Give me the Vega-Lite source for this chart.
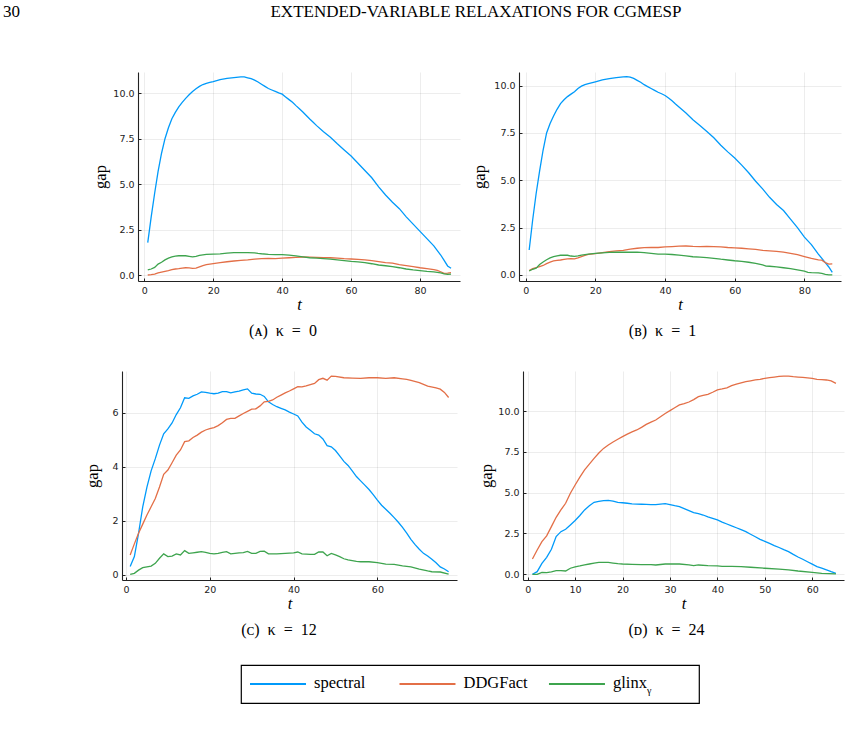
{
  "$schema": "https://vega.github.io/schema/vega-lite/v6.json",
  "background": "white",
  "padding": 0,
  "autosize": {"type": "pad"},
  "bounds": "full",
  "spacing": 0,
  "config": {
    "view": {"stroke": null},
    "font": "Liberation Serif",
    "axis": {
      "labelFont": "DejaVu Sans", "labelFontSize": 9.5, "labelColor": "#222", "labelFlush": false, "labelOverlap": false,
      "labelPadding": 7,
      "domainColor": "#222", "domainWidth": 1.1,
      "tickColor": "#222", "tickSize": -3, "tickWidth": 1,
      "gridColor": "#000", "gridOpacity": 0.1, "gridWidth": 0.7,
      "titleFont": "Liberation Serif", "titleFontSize": 16.5, "titleFontWeight": "normal", "titleColor": "#000"
    },
    "axisX": {"titleFontStyle": "italic", "titlePadding": 2, "labelAngle": 0},
    "title": {"font": "Liberation Serif", "fontSize": 16, "fontWeight": "normal", "color": "#000", "orient": "bottom", "anchor": "middle", "frame": "group", "offset": 10},
    "line": {"strokeWidth": 1.3},
    "legend": {"disable": true}
  },
  "datasets": {
    "a": [
      {"s":"spectral","t":1,"gap":1.78},{"s":"spectral","t":2,"gap":3.2},{"s":"spectral","t":3,"gap":4.5},{"s":"spectral","t":4,"gap":5.7},{"s":"spectral","t":5,"gap":6.7},{"s":"spectral","t":6,"gap":7.5},{"s":"spectral","t":7,"gap":8.1},{"s":"spectral","t":8,"gap":8.6},{"s":"spectral","t":9,"gap":8.95},{"s":"spectral","t":10,"gap":9.25},{"s":"spectral","t":11,"gap":9.5},{"s":"spectral","t":12,"gap":9.72},{"s":"spectral","t":13,"gap":9.92},{"s":"spectral","t":14,"gap":10.1},{"s":"spectral","t":15,"gap":10.25},{"s":"spectral","t":16,"gap":10.38},{"s":"spectral","t":17,"gap":10.48},{"s":"spectral","t":18,"gap":10.55},{"s":"spectral","t":19,"gap":10.6},{"s":"spectral","t":20,"gap":10.64},{"s":"spectral","t":22,"gap":10.75},{"s":"spectral","t":24,"gap":10.82},{"s":"spectral","t":26,"gap":10.86},{"s":"spectral","t":28,"gap":10.9},{"s":"spectral","t":29,"gap":10.9},{"s":"spectral","t":30,"gap":10.85},{"s":"spectral","t":31,"gap":10.8},{"s":"spectral","t":32,"gap":10.72},{"s":"spectral","t":33,"gap":10.62},{"s":"spectral","t":34,"gap":10.5},{"s":"spectral","t":35,"gap":10.38},{"s":"spectral","t":36,"gap":10.26},{"s":"spectral","t":37,"gap":10.18},{"s":"spectral","t":38,"gap":10.1},{"s":"spectral","t":39,"gap":10.02},{"s":"spectral","t":40,"gap":9.95},{"s":"spectral","t":41,"gap":9.8},{"s":"spectral","t":42,"gap":9.65},{"s":"spectral","t":43,"gap":9.5},{"s":"spectral","t":44,"gap":9.32},{"s":"spectral","t":45,"gap":9.15},{"s":"spectral","t":46,"gap":8.97},{"s":"spectral","t":47,"gap":8.78},{"s":"spectral","t":48,"gap":8.58},{"s":"spectral","t":49,"gap":8.4},{"s":"spectral","t":50,"gap":8.22},{"s":"spectral","t":52,"gap":7.88},{"s":"spectral","t":54,"gap":7.58},{"s":"spectral","t":56,"gap":7.22},{"s":"spectral","t":58,"gap":6.88},{"s":"spectral","t":60,"gap":6.55},{"s":"spectral","t":62,"gap":6.15},{"s":"spectral","t":64,"gap":5.75},{"s":"spectral","t":66,"gap":5.35},{"s":"spectral","t":68,"gap":4.85},{"s":"spectral","t":70,"gap":4.4},{"s":"spectral","t":72,"gap":4.0},{"s":"spectral","t":74,"gap":3.65},{"s":"spectral","t":76,"gap":3.2},{"s":"spectral","t":78,"gap":2.8},{"s":"spectral","t":80,"gap":2.4},{"s":"spectral","t":82,"gap":2.0},{"s":"spectral","t":84,"gap":1.6},{"s":"spectral","t":86,"gap":1.1},{"s":"spectral","t":87,"gap":0.8},{"s":"spectral","t":88,"gap":0.5},{"s":"spectral","t":89,"gap":0.37},
      {"s":"DDGFact","t":1,"gap":0.0},{"s":"DDGFact","t":2,"gap":0.02},{"s":"DDGFact","t":3,"gap":0.05},{"s":"DDGFact","t":4,"gap":0.12},{"s":"DDGFact","t":5,"gap":0.16},{"s":"DDGFact","t":6,"gap":0.2},{"s":"DDGFact","t":7,"gap":0.24},{"s":"DDGFact","t":8,"gap":0.29},{"s":"DDGFact","t":9,"gap":0.33},{"s":"DDGFact","t":10,"gap":0.35},{"s":"DDGFact","t":11,"gap":0.38},{"s":"DDGFact","t":12,"gap":0.4},{"s":"DDGFact","t":13,"gap":0.39},{"s":"DDGFact","t":14,"gap":0.37},{"s":"DDGFact","t":15,"gap":0.38},{"s":"DDGFact","t":16,"gap":0.45},{"s":"DDGFact","t":17,"gap":0.52},{"s":"DDGFact","t":18,"gap":0.57},{"s":"DDGFact","t":20,"gap":0.63},{"s":"DDGFact","t":22,"gap":0.68},{"s":"DDGFact","t":24,"gap":0.73},{"s":"DDGFact","t":26,"gap":0.77},{"s":"DDGFact","t":28,"gap":0.8},{"s":"DDGFact","t":30,"gap":0.83},{"s":"DDGFact","t":32,"gap":0.87},{"s":"DDGFact","t":34,"gap":0.9},{"s":"DDGFact","t":36,"gap":0.91},{"s":"DDGFact","t":38,"gap":0.9},{"s":"DDGFact","t":40,"gap":0.93},{"s":"DDGFact","t":42,"gap":0.95},{"s":"DDGFact","t":44,"gap":0.97},{"s":"DDGFact","t":46,"gap":0.99},{"s":"DDGFact","t":48,"gap":0.98},{"s":"DDGFact","t":50,"gap":0.97},{"s":"DDGFact","t":52,"gap":0.96},{"s":"DDGFact","t":54,"gap":0.95},{"s":"DDGFact","t":56,"gap":0.93},{"s":"DDGFact","t":58,"gap":0.9},{"s":"DDGFact","t":60,"gap":0.88},{"s":"DDGFact","t":62,"gap":0.86},{"s":"DDGFact","t":64,"gap":0.83},{"s":"DDGFact","t":66,"gap":0.79},{"s":"DDGFact","t":68,"gap":0.74},{"s":"DDGFact","t":70,"gap":0.68},{"s":"DDGFact","t":72,"gap":0.65},{"s":"DDGFact","t":74,"gap":0.57},{"s":"DDGFact","t":76,"gap":0.52},{"s":"DDGFact","t":78,"gap":0.46},{"s":"DDGFact","t":80,"gap":0.4},{"s":"DDGFact","t":82,"gap":0.35},{"s":"DDGFact","t":84,"gap":0.3},{"s":"DDGFact","t":85,"gap":0.26},{"s":"DDGFact","t":86,"gap":0.18},{"s":"DDGFact","t":87,"gap":0.09},{"s":"DDGFact","t":88,"gap":0.1},{"s":"DDGFact","t":89,"gap":0.13},
      {"s":"glinx_γ","t":1,"gap":0.28},{"s":"glinx_γ","t":2,"gap":0.33},{"s":"glinx_γ","t":3,"gap":0.42},{"s":"glinx_γ","t":4,"gap":0.6},{"s":"glinx_γ","t":5,"gap":0.7},{"s":"glinx_γ","t":6,"gap":0.83},{"s":"glinx_γ","t":7,"gap":0.93},{"s":"glinx_γ","t":8,"gap":1.0},{"s":"glinx_γ","t":9,"gap":1.04},{"s":"glinx_γ","t":10,"gap":1.06},{"s":"glinx_γ","t":11,"gap":1.07},{"s":"glinx_γ","t":12,"gap":1.06},{"s":"glinx_γ","t":13,"gap":1.03},{"s":"glinx_γ","t":14,"gap":1.0},{"s":"glinx_γ","t":15,"gap":1.03},{"s":"glinx_γ","t":16,"gap":1.08},{"s":"glinx_γ","t":18,"gap":1.14},{"s":"glinx_γ","t":20,"gap":1.15},{"s":"glinx_γ","t":22,"gap":1.16},{"s":"glinx_γ","t":24,"gap":1.2},{"s":"glinx_γ","t":26,"gap":1.23},{"s":"glinx_γ","t":28,"gap":1.23},{"s":"glinx_γ","t":30,"gap":1.23},{"s":"glinx_γ","t":32,"gap":1.22},{"s":"glinx_γ","t":33,"gap":1.19},{"s":"glinx_γ","t":34,"gap":1.17},{"s":"glinx_γ","t":36,"gap":1.14},{"s":"glinx_γ","t":38,"gap":1.12},{"s":"glinx_γ","t":40,"gap":1.12},{"s":"glinx_γ","t":42,"gap":1.09},{"s":"glinx_γ","t":44,"gap":1.05},{"s":"glinx_γ","t":46,"gap":1.0},{"s":"glinx_γ","t":48,"gap":0.95},{"s":"glinx_γ","t":50,"gap":0.93},{"s":"glinx_γ","t":52,"gap":0.9},{"s":"glinx_γ","t":54,"gap":0.87},{"s":"glinx_γ","t":56,"gap":0.83},{"s":"glinx_γ","t":58,"gap":0.79},{"s":"glinx_γ","t":60,"gap":0.75},{"s":"glinx_γ","t":62,"gap":0.72},{"s":"glinx_γ","t":64,"gap":0.68},{"s":"glinx_γ","t":66,"gap":0.62},{"s":"glinx_γ","t":68,"gap":0.55},{"s":"glinx_γ","t":70,"gap":0.51},{"s":"glinx_γ","t":72,"gap":0.46},{"s":"glinx_γ","t":74,"gap":0.4},{"s":"glinx_γ","t":76,"gap":0.33},{"s":"glinx_γ","t":78,"gap":0.28},{"s":"glinx_γ","t":80,"gap":0.24},{"s":"glinx_γ","t":82,"gap":0.2},{"s":"glinx_γ","t":84,"gap":0.17},{"s":"glinx_γ","t":86,"gap":0.12},{"s":"glinx_γ","t":87,"gap":0.06},{"s":"glinx_γ","t":88,"gap":0.03},{"s":"glinx_γ","t":89,"gap":0.05}
    ],
    "b": [
      {"s":"spectral","t":1,"gap":1.32},{"s":"spectral","t":2,"gap":2.9},{"s":"spectral","t":3,"gap":4.3},{"s":"spectral","t":4,"gap":5.5},{"s":"spectral","t":5,"gap":6.6},{"s":"spectral","t":6,"gap":7.5},{"s":"spectral","t":7,"gap":8.0},{"s":"spectral","t":8,"gap":8.4},{"s":"spectral","t":9,"gap":8.75},{"s":"spectral","t":10,"gap":9.05},{"s":"spectral","t":11,"gap":9.25},{"s":"spectral","t":12,"gap":9.42},{"s":"spectral","t":13,"gap":9.55},{"s":"spectral","t":14,"gap":9.68},{"s":"spectral","t":15,"gap":9.85},{"s":"spectral","t":16,"gap":9.97},{"s":"spectral","t":17,"gap":10.05},{"s":"spectral","t":18,"gap":10.1},{"s":"spectral","t":20,"gap":10.2},{"s":"spectral","t":22,"gap":10.3},{"s":"spectral","t":24,"gap":10.37},{"s":"spectral","t":26,"gap":10.42},{"s":"spectral","t":28,"gap":10.46},{"s":"spectral","t":29,"gap":10.48},{"s":"spectral","t":30,"gap":10.45},{"s":"spectral","t":31,"gap":10.38},{"s":"spectral","t":32,"gap":10.28},{"s":"spectral","t":33,"gap":10.18},{"s":"spectral","t":34,"gap":10.05},{"s":"spectral","t":35,"gap":9.95},{"s":"spectral","t":36,"gap":9.85},{"s":"spectral","t":37,"gap":9.75},{"s":"spectral","t":38,"gap":9.65},{"s":"spectral","t":39,"gap":9.57},{"s":"spectral","t":40,"gap":9.48},{"s":"spectral","t":41,"gap":9.35},{"s":"spectral","t":42,"gap":9.2},{"s":"spectral","t":43,"gap":9.03},{"s":"spectral","t":44,"gap":8.87},{"s":"spectral","t":46,"gap":8.55},{"s":"spectral","t":48,"gap":8.2},{"s":"spectral","t":50,"gap":7.9},{"s":"spectral","t":52,"gap":7.58},{"s":"spectral","t":54,"gap":7.25},{"s":"spectral","t":56,"gap":6.85},{"s":"spectral","t":58,"gap":6.5},{"s":"spectral","t":60,"gap":6.18},{"s":"spectral","t":62,"gap":5.8},{"s":"spectral","t":64,"gap":5.4},{"s":"spectral","t":66,"gap":4.95},{"s":"spectral","t":68,"gap":4.55},{"s":"spectral","t":70,"gap":4.1},{"s":"spectral","t":72,"gap":3.72},{"s":"spectral","t":74,"gap":3.4},{"s":"spectral","t":76,"gap":2.95},{"s":"spectral","t":78,"gap":2.5},{"s":"spectral","t":80,"gap":2.0},{"s":"spectral","t":82,"gap":1.6},{"s":"spectral","t":83,"gap":1.35},{"s":"spectral","t":84,"gap":1.1},{"s":"spectral","t":86,"gap":0.65},{"s":"spectral","t":87,"gap":0.42},{"s":"spectral","t":88,"gap":0.14},
      {"s":"DDGFact","t":1,"gap":0.23},{"s":"DDGFact","t":2,"gap":0.33},{"s":"DDGFact","t":3,"gap":0.38},{"s":"DDGFact","t":4,"gap":0.44},{"s":"DDGFact","t":5,"gap":0.5},{"s":"DDGFact","t":6,"gap":0.6},{"s":"DDGFact","t":7,"gap":0.68},{"s":"DDGFact","t":8,"gap":0.74},{"s":"DDGFact","t":9,"gap":0.77},{"s":"DDGFact","t":10,"gap":0.79},{"s":"DDGFact","t":11,"gap":0.82},{"s":"DDGFact","t":12,"gap":0.85},{"s":"DDGFact","t":13,"gap":0.86},{"s":"DDGFact","t":14,"gap":0.85},{"s":"DDGFact","t":15,"gap":0.9},{"s":"DDGFact","t":16,"gap":0.97},{"s":"DDGFact","t":17,"gap":1.03},{"s":"DDGFact","t":18,"gap":1.09},{"s":"DDGFact","t":20,"gap":1.13},{"s":"DDGFact","t":22,"gap":1.18},{"s":"DDGFact","t":24,"gap":1.23},{"s":"DDGFact","t":26,"gap":1.27},{"s":"DDGFact","t":28,"gap":1.3},{"s":"DDGFact","t":30,"gap":1.36},{"s":"DDGFact","t":32,"gap":1.41},{"s":"DDGFact","t":34,"gap":1.44},{"s":"DDGFact","t":36,"gap":1.45},{"s":"DDGFact","t":38,"gap":1.45},{"s":"DDGFact","t":40,"gap":1.48},{"s":"DDGFact","t":42,"gap":1.5},{"s":"DDGFact","t":44,"gap":1.52},{"s":"DDGFact","t":46,"gap":1.53},{"s":"DDGFact","t":48,"gap":1.51},{"s":"DDGFact","t":50,"gap":1.5},{"s":"DDGFact","t":52,"gap":1.51},{"s":"DDGFact","t":54,"gap":1.5},{"s":"DDGFact","t":56,"gap":1.48},{"s":"DDGFact","t":58,"gap":1.45},{"s":"DDGFact","t":60,"gap":1.43},{"s":"DDGFact","t":62,"gap":1.41},{"s":"DDGFact","t":64,"gap":1.38},{"s":"DDGFact","t":66,"gap":1.35},{"s":"DDGFact","t":68,"gap":1.3},{"s":"DDGFact","t":70,"gap":1.27},{"s":"DDGFact","t":72,"gap":1.24},{"s":"DDGFact","t":74,"gap":1.2},{"s":"DDGFact","t":76,"gap":1.14},{"s":"DDGFact","t":78,"gap":1.07},{"s":"DDGFact","t":80,"gap":0.97},{"s":"DDGFact","t":82,"gap":0.87},{"s":"DDGFact","t":84,"gap":0.8},{"s":"DDGFact","t":85,"gap":0.78},{"s":"DDGFact","t":86,"gap":0.65},{"s":"DDGFact","t":87,"gap":0.57},{"s":"DDGFact","t":88,"gap":0.58},
      {"s":"glinx_γ","t":1,"gap":0.21},{"s":"glinx_γ","t":2,"gap":0.3},{"s":"glinx_γ","t":3,"gap":0.36},{"s":"glinx_γ","t":4,"gap":0.55},{"s":"glinx_γ","t":5,"gap":0.68},{"s":"glinx_γ","t":6,"gap":0.8},{"s":"glinx_γ","t":7,"gap":0.9},{"s":"glinx_γ","t":8,"gap":0.97},{"s":"glinx_γ","t":9,"gap":1.01},{"s":"glinx_γ","t":10,"gap":1.04},{"s":"glinx_γ","t":11,"gap":1.05},{"s":"glinx_γ","t":12,"gap":1.04},{"s":"glinx_γ","t":13,"gap":1.0},{"s":"glinx_γ","t":14,"gap":0.98},{"s":"glinx_γ","t":15,"gap":1.01},{"s":"glinx_γ","t":16,"gap":1.05},{"s":"glinx_γ","t":18,"gap":1.1},{"s":"glinx_γ","t":20,"gap":1.14},{"s":"glinx_γ","t":22,"gap":1.17},{"s":"glinx_γ","t":24,"gap":1.19},{"s":"glinx_γ","t":26,"gap":1.2},{"s":"glinx_γ","t":28,"gap":1.2},{"s":"glinx_γ","t":30,"gap":1.2},{"s":"glinx_γ","t":32,"gap":1.2},{"s":"glinx_γ","t":34,"gap":1.18},{"s":"glinx_γ","t":36,"gap":1.14},{"s":"glinx_γ","t":38,"gap":1.1},{"s":"glinx_γ","t":40,"gap":1.1},{"s":"glinx_γ","t":42,"gap":1.08},{"s":"glinx_γ","t":44,"gap":1.05},{"s":"glinx_γ","t":46,"gap":1.01},{"s":"glinx_γ","t":48,"gap":0.96},{"s":"glinx_γ","t":50,"gap":0.94},{"s":"glinx_γ","t":52,"gap":0.92},{"s":"glinx_γ","t":54,"gap":0.88},{"s":"glinx_γ","t":56,"gap":0.83},{"s":"glinx_γ","t":58,"gap":0.79},{"s":"glinx_γ","t":60,"gap":0.75},{"s":"glinx_γ","t":62,"gap":0.72},{"s":"glinx_γ","t":64,"gap":0.67},{"s":"glinx_γ","t":66,"gap":0.61},{"s":"glinx_γ","t":68,"gap":0.53},{"s":"glinx_γ","t":69,"gap":0.47},{"s":"glinx_γ","t":70,"gap":0.46},{"s":"glinx_γ","t":72,"gap":0.43},{"s":"glinx_γ","t":74,"gap":0.38},{"s":"glinx_γ","t":76,"gap":0.33},{"s":"glinx_γ","t":78,"gap":0.27},{"s":"glinx_γ","t":80,"gap":0.2},{"s":"glinx_γ","t":81,"gap":0.14},{"s":"glinx_γ","t":82,"gap":0.12},{"s":"glinx_γ","t":84,"gap":0.11},{"s":"glinx_γ","t":85,"gap":0.08},{"s":"glinx_γ","t":86,"gap":0.03},{"s":"glinx_γ","t":87,"gap":0.0},{"s":"glinx_γ","t":88,"gap":0.0}
    ],
    "c": [
      {"s":"spectral","t":1,"gap":0.31},{"s":"spectral","t":2,"gap":0.68},{"s":"spectral","t":3,"gap":1.54},{"s":"spectral","t":4,"gap":2.52},{"s":"spectral","t":5,"gap":3.25},{"s":"spectral","t":6,"gap":3.85},{"s":"spectral","t":7,"gap":4.3},{"s":"spectral","t":8,"gap":4.8},{"s":"spectral","t":9,"gap":5.22},{"s":"spectral","t":10,"gap":5.4},{"s":"spectral","t":11,"gap":5.62},{"s":"spectral","t":12,"gap":5.93},{"s":"spectral","t":13,"gap":6.18},{"s":"spectral","t":14,"gap":6.55},{"s":"spectral","t":15,"gap":6.53},{"s":"spectral","t":16,"gap":6.62},{"s":"spectral","t":17,"gap":6.68},{"s":"spectral","t":18,"gap":6.77},{"s":"spectral","t":19,"gap":6.75},{"s":"spectral","t":20,"gap":6.72},{"s":"spectral","t":21,"gap":6.7},{"s":"spectral","t":22,"gap":6.72},{"s":"spectral","t":23,"gap":6.78},{"s":"spectral","t":24,"gap":6.78},{"s":"spectral","t":25,"gap":6.73},{"s":"spectral","t":26,"gap":6.77},{"s":"spectral","t":27,"gap":6.8},{"s":"spectral","t":28,"gap":6.84},{"s":"spectral","t":29,"gap":6.88},{"s":"spectral","t":30,"gap":6.72},{"s":"spectral","t":31,"gap":6.69},{"s":"spectral","t":32,"gap":6.68},{"s":"spectral","t":33,"gap":6.6},{"s":"spectral","t":34,"gap":6.4},{"s":"spectral","t":35,"gap":6.3},{"s":"spectral","t":36,"gap":6.22},{"s":"spectral","t":37,"gap":6.16},{"s":"spectral","t":38,"gap":6.1},{"s":"spectral","t":39,"gap":6.02},{"s":"spectral","t":40,"gap":5.95},{"s":"spectral","t":41,"gap":5.88},{"s":"spectral","t":42,"gap":5.65},{"s":"spectral","t":43,"gap":5.47},{"s":"spectral","t":44,"gap":5.35},{"s":"spectral","t":45,"gap":5.22},{"s":"spectral","t":46,"gap":5.17},{"s":"spectral","t":47,"gap":5.03},{"s":"spectral","t":48,"gap":4.78},{"s":"spectral","t":49,"gap":4.74},{"s":"spectral","t":50,"gap":4.6},{"s":"spectral","t":51,"gap":4.4},{"s":"spectral","t":52,"gap":4.2},{"s":"spectral","t":53,"gap":4.05},{"s":"spectral","t":54,"gap":3.85},{"s":"spectral","t":55,"gap":3.64},{"s":"spectral","t":56,"gap":3.48},{"s":"spectral","t":57,"gap":3.32},{"s":"spectral","t":58,"gap":3.16},{"s":"spectral","t":59,"gap":2.97},{"s":"spectral","t":60,"gap":2.77},{"s":"spectral","t":61,"gap":2.58},{"s":"spectral","t":62,"gap":2.43},{"s":"spectral","t":63,"gap":2.28},{"s":"spectral","t":64,"gap":2.12},{"s":"spectral","t":65,"gap":1.95},{"s":"spectral","t":66,"gap":1.76},{"s":"spectral","t":67,"gap":1.55},{"s":"spectral","t":68,"gap":1.32},{"s":"spectral","t":69,"gap":1.12},{"s":"spectral","t":70,"gap":0.95},{"s":"spectral","t":71,"gap":0.8},{"s":"spectral","t":72,"gap":0.7},{"s":"spectral","t":73,"gap":0.58},{"s":"spectral","t":74,"gap":0.45},{"s":"spectral","t":75,"gap":0.3},{"s":"spectral","t":76,"gap":0.22},{"s":"spectral","t":77,"gap":0.12},
      {"s":"DDGFact","t":1,"gap":0.74},{"s":"DDGFact","t":2,"gap":1.15},{"s":"DDGFact","t":3,"gap":1.54},{"s":"DDGFact","t":4,"gap":1.88},{"s":"DDGFact","t":5,"gap":2.22},{"s":"DDGFact","t":6,"gap":2.52},{"s":"DDGFact","t":7,"gap":2.83},{"s":"DDGFact","t":8,"gap":3.25},{"s":"DDGFact","t":9,"gap":3.72},{"s":"DDGFact","t":10,"gap":3.88},{"s":"DDGFact","t":11,"gap":4.15},{"s":"DDGFact","t":12,"gap":4.43},{"s":"DDGFact","t":13,"gap":4.62},{"s":"DDGFact","t":14,"gap":4.93},{"s":"DDGFact","t":15,"gap":4.96},{"s":"DDGFact","t":16,"gap":5.08},{"s":"DDGFact","t":17,"gap":5.17},{"s":"DDGFact","t":18,"gap":5.28},{"s":"DDGFact","t":19,"gap":5.36},{"s":"DDGFact","t":20,"gap":5.41},{"s":"DDGFact","t":21,"gap":5.45},{"s":"DDGFact","t":22,"gap":5.52},{"s":"DDGFact","t":23,"gap":5.63},{"s":"DDGFact","t":24,"gap":5.75},{"s":"DDGFact","t":25,"gap":5.79},{"s":"DDGFact","t":26,"gap":5.79},{"s":"DDGFact","t":27,"gap":5.88},{"s":"DDGFact","t":28,"gap":5.97},{"s":"DDGFact","t":29,"gap":6.05},{"s":"DDGFact","t":30,"gap":6.13},{"s":"DDGFact","t":31,"gap":6.14},{"s":"DDGFact","t":32,"gap":6.25},{"s":"DDGFact","t":33,"gap":6.4},{"s":"DDGFact","t":34,"gap":6.42},{"s":"DDGFact","t":35,"gap":6.47},{"s":"DDGFact","t":36,"gap":6.57},{"s":"DDGFact","t":37,"gap":6.65},{"s":"DDGFact","t":38,"gap":6.73},{"s":"DDGFact","t":39,"gap":6.8},{"s":"DDGFact","t":40,"gap":6.88},{"s":"DDGFact","t":41,"gap":6.96},{"s":"DDGFact","t":42,"gap":6.95},{"s":"DDGFact","t":43,"gap":6.99},{"s":"DDGFact","t":44,"gap":7.04},{"s":"DDGFact","t":45,"gap":7.08},{"s":"DDGFact","t":46,"gap":7.22},{"s":"DDGFact","t":47,"gap":7.27},{"s":"DDGFact","t":48,"gap":7.2},{"s":"DDGFact","t":49,"gap":7.35},{"s":"DDGFact","t":50,"gap":7.34},{"s":"DDGFact","t":52,"gap":7.29},{"s":"DDGFact","t":54,"gap":7.28},{"s":"DDGFact","t":56,"gap":7.27},{"s":"DDGFact","t":58,"gap":7.29},{"s":"DDGFact","t":60,"gap":7.29},{"s":"DDGFact","t":62,"gap":7.27},{"s":"DDGFact","t":64,"gap":7.29},{"s":"DDGFact","t":66,"gap":7.25},{"s":"DDGFact","t":67,"gap":7.23},{"s":"DDGFact","t":68,"gap":7.19},{"s":"DDGFact","t":70,"gap":7.11},{"s":"DDGFact","t":72,"gap":6.98},{"s":"DDGFact","t":74,"gap":6.92},{"s":"DDGFact","t":75,"gap":6.87},{"s":"DDGFact","t":76,"gap":6.75},{"s":"DDGFact","t":77,"gap":6.56},
      {"s":"glinx_γ","t":1,"gap":0.02},{"s":"glinx_γ","t":2,"gap":0.06},{"s":"glinx_γ","t":3,"gap":0.18},{"s":"glinx_γ","t":4,"gap":0.27},{"s":"glinx_γ","t":5,"gap":0.3},{"s":"glinx_γ","t":6,"gap":0.33},{"s":"glinx_γ","t":7,"gap":0.43},{"s":"glinx_γ","t":8,"gap":0.62},{"s":"glinx_γ","t":9,"gap":0.78},{"s":"glinx_γ","t":10,"gap":0.68},{"s":"glinx_γ","t":11,"gap":0.7},{"s":"glinx_γ","t":12,"gap":0.78},{"s":"glinx_γ","t":13,"gap":0.74},{"s":"glinx_γ","t":14,"gap":0.9},{"s":"glinx_γ","t":15,"gap":0.8},{"s":"glinx_γ","t":16,"gap":0.82},{"s":"glinx_γ","t":17,"gap":0.84},{"s":"glinx_γ","t":18,"gap":0.86},{"s":"glinx_γ","t":19,"gap":0.84},{"s":"glinx_γ","t":20,"gap":0.8},{"s":"glinx_γ","t":21,"gap":0.78},{"s":"glinx_γ","t":22,"gap":0.8},{"s":"glinx_γ","t":23,"gap":0.84},{"s":"glinx_γ","t":24,"gap":0.86},{"s":"glinx_γ","t":25,"gap":0.78},{"s":"glinx_γ","t":26,"gap":0.8},{"s":"glinx_γ","t":27,"gap":0.82},{"s":"glinx_γ","t":28,"gap":0.83},{"s":"glinx_γ","t":29,"gap":0.87},{"s":"glinx_γ","t":30,"gap":0.8},{"s":"glinx_γ","t":31,"gap":0.8},{"s":"glinx_γ","t":32,"gap":0.87},{"s":"glinx_γ","t":33,"gap":0.88},{"s":"glinx_γ","t":34,"gap":0.78},{"s":"glinx_γ","t":35,"gap":0.78},{"s":"glinx_γ","t":36,"gap":0.78},{"s":"glinx_γ","t":38,"gap":0.8},{"s":"glinx_γ","t":40,"gap":0.82},{"s":"glinx_γ","t":41,"gap":0.85},{"s":"glinx_γ","t":42,"gap":0.78},{"s":"glinx_γ","t":43,"gap":0.77},{"s":"glinx_γ","t":44,"gap":0.76},{"s":"glinx_γ","t":45,"gap":0.76},{"s":"glinx_γ","t":46,"gap":0.85},{"s":"glinx_γ","t":47,"gap":0.85},{"s":"glinx_γ","t":48,"gap":0.71},{"s":"glinx_γ","t":49,"gap":0.8},{"s":"glinx_γ","t":50,"gap":0.74},{"s":"glinx_γ","t":51,"gap":0.68},{"s":"glinx_γ","t":52,"gap":0.6},{"s":"glinx_γ","t":53,"gap":0.56},{"s":"glinx_γ","t":54,"gap":0.53},{"s":"glinx_γ","t":55,"gap":0.5},{"s":"glinx_γ","t":56,"gap":0.49},{"s":"glinx_γ","t":58,"gap":0.49},{"s":"glinx_γ","t":60,"gap":0.46},{"s":"glinx_γ","t":61,"gap":0.43},{"s":"glinx_γ","t":62,"gap":0.4},{"s":"glinx_γ","t":64,"gap":0.39},{"s":"glinx_γ","t":66,"gap":0.34},{"s":"glinx_γ","t":68,"gap":0.3},{"s":"glinx_γ","t":70,"gap":0.22},{"s":"glinx_γ","t":72,"gap":0.15},{"s":"glinx_γ","t":73,"gap":0.12},{"s":"glinx_γ","t":75,"gap":0.11},{"s":"glinx_γ","t":77,"gap":0.03}
    ],
    "d": [
      {"s":"spectral","t":1,"gap":0.0},{"s":"spectral","t":2,"gap":0.16},{"s":"spectral","t":3,"gap":0.67},{"s":"spectral","t":4,"gap":1.04},{"s":"spectral","t":5,"gap":1.53},{"s":"spectral","t":6,"gap":2.31},{"s":"spectral","t":7,"gap":2.61},{"s":"spectral","t":8,"gap":2.76},{"s":"spectral","t":9,"gap":3.02},{"s":"spectral","t":10,"gap":3.29},{"s":"spectral","t":11,"gap":3.6},{"s":"spectral","t":12,"gap":3.94},{"s":"spectral","t":13,"gap":4.2},{"s":"spectral","t":14,"gap":4.41},{"s":"spectral","t":15,"gap":4.47},{"s":"spectral","t":16,"gap":4.51},{"s":"spectral","t":17,"gap":4.53},{"s":"spectral","t":18,"gap":4.48},{"s":"spectral","t":19,"gap":4.41},{"s":"spectral","t":20,"gap":4.38},{"s":"spectral","t":21,"gap":4.35},{"s":"spectral","t":22,"gap":4.31},{"s":"spectral","t":23,"gap":4.3},{"s":"spectral","t":24,"gap":4.29},{"s":"spectral","t":25,"gap":4.28},{"s":"spectral","t":26,"gap":4.27},{"s":"spectral","t":27,"gap":4.27},{"s":"spectral","t":28,"gap":4.3},{"s":"spectral","t":29,"gap":4.33},{"s":"spectral","t":30,"gap":4.27},{"s":"spectral","t":31,"gap":4.2},{"s":"spectral","t":32,"gap":4.14},{"s":"spectral","t":33,"gap":4.02},{"s":"spectral","t":34,"gap":3.9},{"s":"spectral","t":35,"gap":3.78},{"s":"spectral","t":36,"gap":3.72},{"s":"spectral","t":37,"gap":3.63},{"s":"spectral","t":38,"gap":3.52},{"s":"spectral","t":39,"gap":3.43},{"s":"spectral","t":40,"gap":3.33},{"s":"spectral","t":41,"gap":3.2},{"s":"spectral","t":42,"gap":3.08},{"s":"spectral","t":43,"gap":2.96},{"s":"spectral","t":44,"gap":2.85},{"s":"spectral","t":45,"gap":2.73},{"s":"spectral","t":46,"gap":2.61},{"s":"spectral","t":47,"gap":2.45},{"s":"spectral","t":48,"gap":2.3},{"s":"spectral","t":49,"gap":2.14},{"s":"spectral","t":50,"gap":2.02},{"s":"spectral","t":51,"gap":1.89},{"s":"spectral","t":52,"gap":1.76},{"s":"spectral","t":53,"gap":1.64},{"s":"spectral","t":54,"gap":1.51},{"s":"spectral","t":55,"gap":1.39},{"s":"spectral","t":56,"gap":1.22},{"s":"spectral","t":57,"gap":1.06},{"s":"spectral","t":58,"gap":0.92},{"s":"spectral","t":59,"gap":0.77},{"s":"spectral","t":60,"gap":0.62},{"s":"spectral","t":61,"gap":0.47},{"s":"spectral","t":62,"gap":0.38},{"s":"spectral","t":63,"gap":0.27},{"s":"spectral","t":64,"gap":0.16},{"s":"spectral","t":65,"gap":0.06},
      {"s":"DDGFact","t":1,"gap":0.94},{"s":"DDGFact","t":2,"gap":1.49},{"s":"DDGFact","t":3,"gap":2.0},{"s":"DDGFact","t":4,"gap":2.35},{"s":"DDGFact","t":5,"gap":2.92},{"s":"DDGFact","t":6,"gap":3.49},{"s":"DDGFact","t":7,"gap":3.94},{"s":"DDGFact","t":8,"gap":4.35},{"s":"DDGFact","t":9,"gap":4.96},{"s":"DDGFact","t":10,"gap":5.47},{"s":"DDGFact","t":11,"gap":5.95},{"s":"DDGFact","t":12,"gap":6.39},{"s":"DDGFact","t":13,"gap":6.75},{"s":"DDGFact","t":14,"gap":7.1},{"s":"DDGFact","t":15,"gap":7.43},{"s":"DDGFact","t":16,"gap":7.71},{"s":"DDGFact","t":17,"gap":7.92},{"s":"DDGFact","t":18,"gap":8.1},{"s":"DDGFact","t":19,"gap":8.27},{"s":"DDGFact","t":20,"gap":8.43},{"s":"DDGFact","t":21,"gap":8.58},{"s":"DDGFact","t":22,"gap":8.72},{"s":"DDGFact","t":23,"gap":8.84},{"s":"DDGFact","t":24,"gap":9.0},{"s":"DDGFact","t":25,"gap":9.18},{"s":"DDGFact","t":26,"gap":9.32},{"s":"DDGFact","t":27,"gap":9.45},{"s":"DDGFact","t":28,"gap":9.65},{"s":"DDGFact","t":29,"gap":9.85},{"s":"DDGFact","t":30,"gap":10.02},{"s":"DDGFact","t":31,"gap":10.2},{"s":"DDGFact","t":32,"gap":10.37},{"s":"DDGFact","t":33,"gap":10.45},{"s":"DDGFact","t":34,"gap":10.55},{"s":"DDGFact","t":35,"gap":10.7},{"s":"DDGFact","t":36,"gap":10.88},{"s":"DDGFact","t":37,"gap":10.95},{"s":"DDGFact","t":38,"gap":11.02},{"s":"DDGFact","t":39,"gap":11.15},{"s":"DDGFact","t":40,"gap":11.29},{"s":"DDGFact","t":41,"gap":11.35},{"s":"DDGFact","t":42,"gap":11.42},{"s":"DDGFact","t":43,"gap":11.55},{"s":"DDGFact","t":44,"gap":11.65},{"s":"DDGFact","t":45,"gap":11.73},{"s":"DDGFact","t":46,"gap":11.8},{"s":"DDGFact","t":47,"gap":11.85},{"s":"DDGFact","t":48,"gap":11.9},{"s":"DDGFact","t":49,"gap":11.94},{"s":"DDGFact","t":50,"gap":12.0},{"s":"DDGFact","t":51,"gap":12.04},{"s":"DDGFact","t":52,"gap":12.08},{"s":"DDGFact","t":53,"gap":12.12},{"s":"DDGFact","t":54,"gap":12.14},{"s":"DDGFact","t":55,"gap":12.13},{"s":"DDGFact","t":56,"gap":12.1},{"s":"DDGFact","t":57,"gap":12.08},{"s":"DDGFact","t":58,"gap":12.06},{"s":"DDGFact","t":59,"gap":12.03},{"s":"DDGFact","t":60,"gap":12.0},{"s":"DDGFact","t":61,"gap":11.94},{"s":"DDGFact","t":62,"gap":11.92},{"s":"DDGFact","t":63,"gap":11.9},{"s":"DDGFact","t":64,"gap":11.84},{"s":"DDGFact","t":65,"gap":11.69},
      {"s":"glinx_γ","t":1,"gap":0.0},{"s":"glinx_γ","t":2,"gap":0.0},{"s":"glinx_γ","t":3,"gap":0.12},{"s":"glinx_γ","t":4,"gap":0.1},{"s":"glinx_γ","t":5,"gap":0.15},{"s":"glinx_γ","t":6,"gap":0.22},{"s":"glinx_γ","t":7,"gap":0.22},{"s":"glinx_γ","t":8,"gap":0.2},{"s":"glinx_γ","t":9,"gap":0.37},{"s":"glinx_γ","t":10,"gap":0.45},{"s":"glinx_γ","t":11,"gap":0.51},{"s":"glinx_γ","t":12,"gap":0.58},{"s":"glinx_γ","t":13,"gap":0.63},{"s":"glinx_γ","t":14,"gap":0.68},{"s":"glinx_γ","t":15,"gap":0.73},{"s":"glinx_γ","t":16,"gap":0.73},{"s":"glinx_γ","t":17,"gap":0.73},{"s":"glinx_γ","t":18,"gap":0.69},{"s":"glinx_γ","t":19,"gap":0.65},{"s":"glinx_γ","t":20,"gap":0.63},{"s":"glinx_γ","t":22,"gap":0.61},{"s":"glinx_γ","t":24,"gap":0.59},{"s":"glinx_γ","t":26,"gap":0.59},{"s":"glinx_γ","t":27,"gap":0.57},{"s":"glinx_γ","t":28,"gap":0.6},{"s":"glinx_γ","t":29,"gap":0.63},{"s":"glinx_γ","t":30,"gap":0.64},{"s":"glinx_γ","t":32,"gap":0.63},{"s":"glinx_γ","t":34,"gap":0.57},{"s":"glinx_γ","t":35,"gap":0.53},{"s":"glinx_γ","t":36,"gap":0.57},{"s":"glinx_γ","t":38,"gap":0.53},{"s":"glinx_γ","t":40,"gap":0.52},{"s":"glinx_γ","t":41,"gap":0.49},{"s":"glinx_γ","t":43,"gap":0.49},{"s":"glinx_γ","t":45,"gap":0.47},{"s":"glinx_γ","t":47,"gap":0.43},{"s":"glinx_γ","t":50,"gap":0.37},{"s":"glinx_γ","t":53,"gap":0.32},{"s":"glinx_γ","t":55,"gap":0.27},{"s":"glinx_γ","t":57,"gap":0.2},{"s":"glinx_γ","t":60,"gap":0.12},{"s":"glinx_γ","t":62,"gap":0.05},{"s":"glinx_γ","t":65,"gap":0.02}
    ],
    "series": [
      {"s": "spectral", "label": "spectral"},
      {"s": "DDGFact", "label": "DDGFact"},
      {"s": "glinx_γ", "label": "glinx", "sub": "γ"}
    ]
  },
  "vconcat": [
    {
      "width": 851, "height": 24,
      "encoding": {
        "x": {"field": "k", "type": "nominal", "scale": {"type": "point", "domain": ["page", "running"], "padding": 0.3996, "align": 0.0079}, "axis": null}
      },
      "layer": [
        {"data": {"values": [{"k": "page", "txt": "30"}]}, "mark": {"type": "text", "align": "left", "baseline": "middle", "fontSize": 17, "font": "Liberation Serif", "color": "#000"}, "encoding": {"text": {"field": "txt"}}},
        {"data": {"values": [{"k": "running", "txt": "EXTENDED-VARIABLE RELAXATIONS FOR CGMESP"}]}, "mark": {"type": "text", "align": "center", "baseline": "middle", "fontSize": 17, "font": "Liberation Serif", "color": "#000"}, "encoding": {"text": {"field": "txt"}}}
      ]
    },
    {"width": 851, "height": 48, "data": {"values": []}, "mark": "point"},
    {
      "hconcat": [
        {"width": 79, "height": 299, "data": {"values": []}, "mark": "point"},
        {
          "width": 322, "height": 209,
          "data": {"name": "a"},
          "title": {"text": "(ᴀ)\u2002κ\u2002=\u20020", "dx": -16},
          "mark": "line",
          "encoding": {
            "x": {"field": "t", "type": "quantitative", "scale": {"domain": [-1.83, 91.6], "nice": false, "zero": false}, "axis": {"values": [0, 20, 40, 60, 80], "format": "d", "title": "t"}},
            "y": {"field": "gap", "type": "quantitative", "scale": {"domain": [-0.33, 11.17], "nice": false, "zero": false}, "axis": {"values": [0, 2.5, 5, 7.5, 10], "format": ".1f", "title": "gap", "titlePadding": 4}},
            "color": {"field": "s", "type": "nominal", "scale": {"domain": ["spectral", "DDGFact", "glinx_γ"], "range": ["#009AFA", "#E36F47", "#3EA44E"]}, "legend": null}
          }
        },
        {
          "width": 322, "height": 209,
          "data": {"name": "b"},
          "title": {"text": "(ʙ)\u2002κ\u2002=\u20021", "dx": -17.5},
          "mark": "line",
          "encoding": {
            "x": {"field": "t", "type": "quantitative", "scale": {"domain": [-1.92, 90.5], "nice": false, "zero": false}, "axis": {"values": [0, 20, 40, 60, 80], "format": "d", "title": "t"}},
            "y": {"field": "gap", "type": "quantitative", "scale": {"domain": [-0.32, 10.72], "nice": false, "zero": false}, "axis": {"values": [0, 2.5, 5, 7.5, 10], "format": ".1f", "title": "gap", "titlePadding": 6}},
            "color": {"field": "s", "type": "nominal", "scale": {"domain": ["spectral", "DDGFact", "glinx_γ"], "range": ["#009AFA", "#E36F47", "#3EA44E"]}, "legend": null}
          }
        }
      ],
      "spacing": 59,
      "bounds": "flush"
    },
    {
      "hconcat": [
        {"width": 56, "height": 293, "data": {"values": []}, "mark": "point"},
        {
          "width": 335, "height": 209,
          "data": {"name": "c"},
          "title": {"text": "(ᴄ)\u2002κ\u2002=\u200212", "dx": -10.5},
          "mark": "line",
          "encoding": {
            "x": {"field": "t", "type": "quantitative", "scale": {"domain": [-0.95, 79.0], "nice": false, "zero": false}, "axis": {"values": [0, 20, 40, 60], "format": "d", "title": "t"}},
            "y": {"field": "gap", "type": "quantitative", "scale": {"domain": [-0.185, 7.54], "nice": false, "zero": false}, "axis": {"values": [0, 2, 4, 6], "format": "d", "title": "gap", "titlePadding": 11}},
            "color": {"field": "s", "type": "nominal", "scale": {"domain": ["spectral", "DDGFact", "glinx_γ"], "range": ["#009AFA", "#E36F47", "#3EA44E"]}, "legend": null}
          }
        },
        {
          "width": 321, "height": 209,
          "data": {"name": "d"},
          "title": {"text": "(ᴅ)\u2002κ\u2002=\u200224", "dx": -17},
          "mark": "line",
          "encoding": {
            "x": {"field": "t", "type": "quantitative", "scale": {"domain": [-0.99, 66.7], "nice": false, "zero": false}, "axis": {"values": [0, 10, 20, 30, 40, 50, 60], "format": "d", "title": "t"}},
            "y": {"field": "gap", "type": "quantitative", "scale": {"domain": [-0.35, 12.45], "nice": false, "zero": false}, "axis": {"values": [0, 2.5, 5, 7.5, 10], "format": ".1f", "title": "gap", "titlePadding": 3}},
            "color": {"field": "s", "type": "nominal", "scale": {"domain": ["spectral", "DDGFact", "glinx_γ"], "range": ["#009AFA", "#E36F47", "#3EA44E"]}, "legend": null}
          }
        }
      ],
      "spacing": 66,
      "bounds": "flush"
    },
    {
      "hconcat": [
        {"width": 241, "height": 74, "data": {"values": []}, "mark": "point"},
        {
          "width": 458, "height": 38,
          "view": {"stroke": "#000", "strokeWidth": 1.2},
          "data": {"name": "series"},
          "encoding": {
            "x": {"field": "s", "type": "nominal", "scale": {"type": "point", "domain": ["spectral", "DDGFact", "glinx_γ"], "padding": 0.532, "align": 0.2327}, "axis": null},
            "color": {"field": "s", "type": "nominal", "scale": {"domain": ["spectral", "DDGFact", "glinx_γ"], "range": ["#009AFA", "#E36F47", "#3EA44E"]}, "legend": null}
          },
          "layer": [
            {"mark": {"type": "tick", "orient": "horizontal", "size": 56, "thickness": 2.2, "opacity": 1}},
            {"mark": {"type": "text", "align": "left", "baseline": "middle", "dx": 36, "dy": -1, "fontSize": 16.5, "font": "Liberation Serif"}, "encoding": {"text": {"field": "label"}, "color": {"value": "#000"}}},
            {"transform": [{"filter": "datum.sub"}], "mark": {"type": "text", "align": "left", "baseline": "middle", "dx": 70, "dy": 7, "fontSize": 10, "font": "Liberation Serif"}, "encoding": {"text": {"field": "sub"}, "color": {"value": "#000"}}}
          ]
        }
      ],
      "spacing": 0,
      "bounds": "flush"
    }
  ]
}
